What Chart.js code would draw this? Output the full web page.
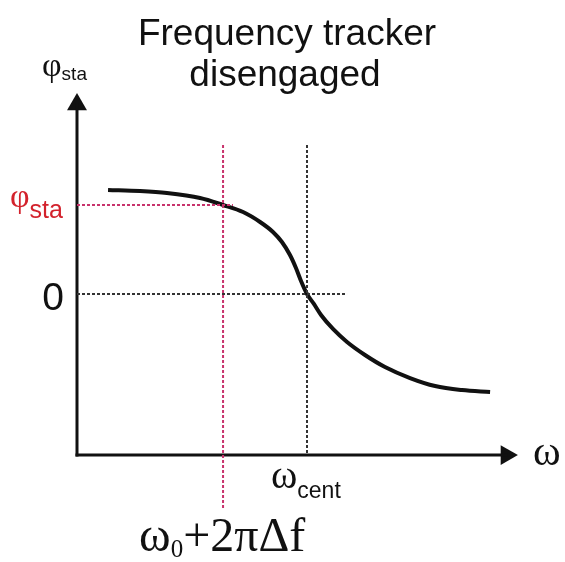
<!DOCTYPE html>
<html>
<head>
<meta charset="utf-8">
<script src="https://cdn.jsdelivr.net/npm/chart.js@4.4.1/dist/chart.umd.min.js"></script>
<style>
  html, body { margin: 0; padding: 0; background: #fff; }
  #wrap { width: 565px; height: 562px; }
</style>
</head>
<body>
<div id="wrap"><canvas id="chart" width="565" height="562"></canvas></div>
<script>
// phase characteristic, omega in units of omega_cent, phi in units of phi_sta
var curveOmega = [0.135, 0.274, 0.391, 0.535, 0.635, 0.722, 0.796, 0.852, 0.891, 0.926, 0.952, 0.974, 1.0,
                  1.030, 1.061, 1.113, 1.174, 1.252, 1.339, 1.448, 1.557, 1.674, 1.796];
var curvePhi   = [1.169, 1.157, 1.135, 1.079, 1.0, 0.921, 0.809, 0.697, 0.584, 0.438, 0.292, 0.146, 0,
                  -0.112, -0.236, -0.393, -0.539, -0.685, -0.820, -0.944, -1.034, -1.079, -1.101];

var omegaCent = 1.0;      // zero crossing
var omegaShift = 0.635;   // omega0 + 2*pi*df
var phiSta = 1.0;
var phiZero = 0;

// axes (arrow ends)
var axisPhi = -1.81;      // where the omega axis sits
var axisOmegaEnd = 1.867;
var axisPhiEnd = 2.129;

var titleLines = ['Frequency tracker', 'disengaged'];

var BLACK = '#111111';
var GUIDE_RED = '#c8336c';
var LABEL_RED = '#d3222c';

var curveData = curveOmega.map(function(w, i) { return { x: w, y: curvePhi[i] }; });

function seg(x0, y0, x1, y1) {
  return [{ x: x0, y: y0 }, { x: x1, y: y1 }];
}

var serif = '"Liberation Serif", "Times New Roman", serif';
var sans = '"Liberation Sans", Arial, sans-serif';

function drawSub(ctx, x, y, main, mainFont, sub, subFont, subDrop, color) {
  ctx.fillStyle = color;
  ctx.textAlign = 'left';
  ctx.textBaseline = 'alphabetic';
  ctx.font = mainFont;
  ctx.fillText(main, x, y);
  var w = ctx.measureText(main).width;
  ctx.font = subFont;
  ctx.fillText(sub, x + w, y + subDrop);
  return x + w + ctx.measureText(sub).width;
}

var labelsPlugin = {
  id: 'labels',
  afterDraw: function(chart) {
    var ctx = chart.ctx;
    var sx = chart.scales.x, sy = chart.scales.y;
    ctx.save();

    // title
    ctx.fillStyle = BLACK;
    ctx.textAlign = 'center';
    ctx.textBaseline = 'alphabetic';
    ctx.font = '37px ' + sans;
    ctx.fillText(titleLines[0], 287, 45);
    ctx.fillText(titleLines[1], 285, 86);

    var x0 = sx.getPixelForValue(0);

    // y axis label
    drawSub(ctx, x0 - 35, 76, '\u03C6', '34px ' + serif, 'sta', '19px ' + sans, 4, BLACK);

    // phi_sta tick label (red)
    var yS = sy.getPixelForValue(phiSta);
    drawSub(ctx, 10, yS + 2, '\u03C6', '34px ' + serif, 'sta', '25px ' + sans, 11, LABEL_RED);

    // zero
    var yZ = sy.getPixelForValue(phiZero);
    ctx.fillStyle = BLACK;
    ctx.textAlign = 'right';
    ctx.font = '39px ' + sans;
    ctx.fillText('0', x0 - 13, yZ + 16);

    // omega axis label
    var yA = sy.getPixelForValue(axisPhi);
    ctx.textAlign = 'left';
    ctx.font = '42px ' + serif;
    ctx.fillText('\u03C9', x0 + 456, yA + 10);

    // omega_cent
    var xC = sx.getPixelForValue(omegaCent);
    drawSub(ctx, xC - 36, yA + 33, '\u03C9', '40px ' + serif, 'cent', '23px ' + sans, 10, BLACK);

    // omega0 + 2 pi df
    var xS = sx.getPixelForValue(omegaShift);
    var end = drawSub(ctx, xS - 84, yA + 96, '\u03C9', '48px ' + serif, '0', '25px ' + serif, 6, BLACK);
    ctx.font = '48px ' + serif;
    ctx.fillText('+2\u03C0\u0394f', end, yA + 96);

    ctx.restore();
  }
};

var ctx = document.getElementById('chart').getContext('2d');
var chart = new Chart(ctx, {
  type: 'line',
  data: {
    datasets: [
      {
        label: 'red guides',
        data: seg(omegaShift, 1.674, omegaShift, -2.404),
        borderColor: GUIDE_RED, borderWidth: 2, borderDash: [3, 2], pointRadius: 0
      },
      {
        label: 'red guide h',
        data: seg(0, phiSta, 0.678, phiSta),
        borderColor: GUIDE_RED, borderWidth: 2, borderDash: [3, 2], pointRadius: 0
      },
      {
        label: 'cent guide',
        data: seg(omegaCent, 1.674, omegaCent, axisPhi),
        borderColor: '#333333', borderWidth: 2, borderDash: [3, 2], pointRadius: 0
      },
      {
        label: 'zero guide',
        data: seg(0, phiZero, 1.174, phiZero),
        borderColor: '#333333', borderWidth: 2, borderDash: [3, 2], pointRadius: 0
      },
      {
        label: 'phase',
        data: curveData,
        borderColor: BLACK, borderWidth: 4, pointRadius: 0,
        cubicInterpolationMode: 'monotone'
      },
      {
        label: 'y axis',
        data: seg(0, axisPhi, 0, axisPhiEnd),
        borderColor: BLACK, borderWidth: 3, pointRadius: 0, borderCapStyle: 'square'
      },
      {
        label: 'x axis',
        data: seg(0, axisPhi, axisOmegaEnd, axisPhi),
        borderColor: BLACK, borderWidth: 3, pointRadius: 0, borderCapStyle: 'square'
      },
      {
        label: 'arrows',
        type: 'scatter',
        data: [{ x: 0, y: axisPhiEnd }, { x: axisOmegaEnd, y: axisPhi }],
        pointStyle: 'triangle',
        rotation: [0, 90],
        pointRadius: 11.5,
        pointBorderWidth: 0,
        backgroundColor: BLACK,
        borderColor: BLACK
      }
    ]
  },
  options: {
    responsive: false,
    animation: false,
    events: [],
    layout: { padding: 0, autoPadding: false },
    plugins: {
      legend: { display: false },
      title: { display: false },
      tooltip: { enabled: false }
    },
    scales: {
      x: { type: 'linear', min: -0.33478, max: 2.12174, display: false },
      y: { type: 'linear', min: -3.01124, max: 3.30337, display: false }
    }
  },
  plugins: [labelsPlugin]
});
</script>
</body>
</html>
